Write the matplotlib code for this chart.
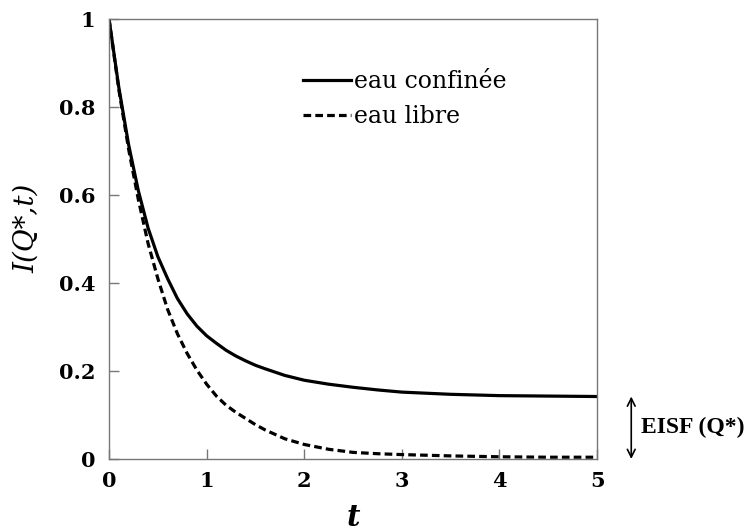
import matplotlib
matplotlib.use("Agg")
import matplotlib.pyplot as plt

plt.rcParams['font.family'] = ['DejaVu Serif', 'Liberation Serif']

t_vals = [0, 0.1, 0.2, 0.3, 0.4, 0.5, 0.6, 0.7, 0.8, 0.9, 1.0, 1.1, 1.2, 1.3,
          1.4, 1.5, 1.6, 1.8, 2.0, 2.25, 2.5, 2.75, 3.0, 3.5, 4.0, 4.5, 5.0]
confined = [1.0, 0.845, 0.715, 0.61, 0.525, 0.46, 0.41, 0.365, 0.33, 0.302,
            0.28, 0.263, 0.247, 0.234, 0.223, 0.213, 0.205, 0.19, 0.179, 0.17,
            0.163, 0.157, 0.152, 0.147, 0.144, 0.143, 0.142]
free = [1.0, 0.84, 0.705, 0.59, 0.49, 0.41, 0.34, 0.285, 0.24, 0.202, 0.17,
        0.143, 0.122, 0.106, 0.092, 0.078, 0.066, 0.046, 0.033, 0.022, 0.015,
        0.012, 0.01, 0.007, 0.005, 0.004, 0.004]

series_labels = ["eau confinée", "eau libre"]
x_ticks = [0, 1, 2, 3, 4, 5]
y_ticks = [0, 0.2, 0.4, 0.6, 0.8, 1]
y_tick_labels = ["0", "0.2", "0.4", "0.6", "0.8", "1"]

fig = plt.figure(figsize=(7.52, 5.30), dpi=100)
ax = fig.add_axes([0.145, 0.134, 0.649, 0.830])

ax.plot(t_vals, confined, color='black', lw=2.3, label=series_labels[0])
ax.plot(t_vals, free, color='black', lw=2.3, linestyle=(0, (2.4, 1.3)),
        label=series_labels[1])

ax.set_xlim(0, 5)
ax.set_ylim(0, 1)
ax.set_xticks(x_ticks)
ax.set_xticklabels([str(v) for v in x_ticks])
ax.set_yticks(y_ticks)
ax.set_yticklabels(y_tick_labels)

for sp in ax.spines.values():
    sp.set_color('#777777')
    sp.set_linewidth(1.0)
ax.tick_params(direction='in', length=7, width=1, color='#777777',
               labelsize=15)
ax.tick_params(axis='y', pad=10)
ax.tick_params(axis='x', pad=9)
for lab in ax.get_xticklabels() + ax.get_yticklabels():
    lab.set_fontweight('bold')

ax.set_xlabel('t', fontsize=21, fontstyle='italic', fontweight='bold', va='center')
ax.xaxis.set_label_coords(0.5, -0.132)
ax.set_ylabel('I(Q*,t)', fontsize=20, fontstyle='italic')
ax.yaxis.set_label_coords(-0.142, 0.525)

leg = ax.legend(loc='upper left', bbox_to_anchor=(0.379, 0.905), frameon=False,
                fontsize=17, handlelength=2.0, handletextpad=0.15,
                labelspacing=0.5, borderaxespad=0)

ax.annotate('', xy=(1.07, 0.0), xytext=(1.07, confined[-1]),
            xycoords=('axes fraction', 'data'), textcoords=('axes fraction', 'data'),
            arrowprops=dict(arrowstyle='<->', color='black', lw=1.2,
                            mutation_scale=14, shrinkA=0, shrinkB=0),
            annotation_clip=False)
ax.text(1.09, confined[-1] / 2, 'EISF (Q*)', transform=ax.get_yaxis_transform(),
        fontsize=17, fontweight='bold', family='Liberation Serif',
        va='center', ha='left', clip_on=False)

fig.savefig('out.png', dpi=100)
